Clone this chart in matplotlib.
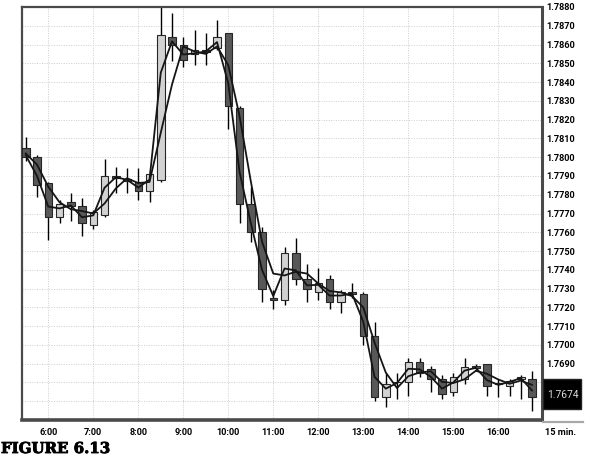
import matplotlib
matplotlib.use("Agg")
import matplotlib.pyplot as plt
import matplotlib.font_manager as fm
import matplotlib.patheffects as pe
import numpy as np
from matplotlib.patches import Rectangle
from matplotlib.lines import Line2D

# ---- data (15-minute candles) ----
times = ["5:30", "5:45", "6:00", "6:15", "6:30", "6:45", "7:00", "7:15", "7:30", "7:45",
         "8:00", "8:15", "8:30", "8:45", "9:00", "9:15", "9:30", "9:45", "10:00", "10:15",
         "10:30", "10:45", "11:00", "11:15", "11:30", "11:45", "12:00", "12:15", "12:30", "12:45",
         "13:00", "13:15", "13:30", "13:45", "14:00", "14:15", "14:30", "14:45", "15:00", "15:15",
         "15:30", "15:45", "16:00", "16:15", "16:30", "16:45"]

opens = [1.7805, 1.7800, 1.7786, 1.7768, 1.7776, 1.7774, 1.7764, 1.7769, 1.7790, 1.77885,
         1.7787, 1.7782, 1.7788, 1.7864, 1.7860, 1.7855, 1.7857, 1.7858, 1.7866, 1.7826,
         1.7775, 1.7760, 1.7725, 1.7724, 1.7749, 1.7735, 1.7728, 1.7735, 1.7723, 1.7728,
         1.7727, 1.7705, 1.7672, 1.76805, 1.7680, 1.7691, 1.7687, 1.7682, 1.7675, 1.7682,
         1.7689, 1.7690, 1.76795, 1.7678, 1.7682, 1.7682]
highs = [1.7811, 1.7801, 1.7787, 1.7777, 1.7781, 1.7778, 1.7772, 1.7799, 1.7795, 1.7794,
         1.7794, 1.7793, 1.7880, 1.7877, 1.7864, 1.7868, 1.7866, 1.7873, 1.7866, 1.7827,
         1.7784, 1.7763, 1.7729, 1.7752, 1.7757, 1.7743, 1.7741, 1.7737, 1.7729, 1.7733,
         1.7728, 1.7712, 1.7685, 1.7685, 1.7693, 1.7693, 1.7689, 1.7684, 1.7685, 1.7693,
         1.7690, 1.7690, 1.7682, 1.7682, 1.7684, 1.7686]
lows = [1.7798, 1.7779, 1.7756, 1.7765, 1.7766, 1.7758, 1.7762, 1.7768, 1.7781, 1.7781,
        1.7777, 1.7776, 1.7787, 1.7851, 1.7848, 1.7849, 1.7849, 1.7857, 1.7815, 1.7765,
        1.7755, 1.7723, 1.7719, 1.7721, 1.7732, 1.7723, 1.7724, 1.7719, 1.7717, 1.7725,
        1.7700, 1.7670, 1.7667, 1.7671, 1.7673, 1.7683, 1.7675, 1.7671, 1.7673, 1.7679,
        1.7686, 1.7673, 1.7672, 1.7673, 1.7671, 1.7665]
closes = [1.7800, 1.7785, 1.7768, 1.7775, 1.7774, 1.7765, 1.7771, 1.7790, 1.7789, 1.77875,
          1.7782, 1.7791, 1.7865, 1.7860, 1.7852, 1.7857, 1.7856, 1.7864, 1.7827, 1.7775,
          1.7760, 1.7730, 1.7724, 1.7749, 1.7735, 1.7730, 1.7733, 1.7723, 1.7728, 1.7727,
          1.7705, 1.7672, 1.7679, 1.7680, 1.7691, 1.7685, 1.7682, 1.7674, 1.7683, 1.7688,
          1.76877, 1.7678, 1.7679, 1.7681, 1.7683, 1.7672]

# moving-average lines
ma_fast = [1.7801, 1.7790, 1.77737, 1.77727, 1.77743, 1.7768, 1.7769, 1.77837, 1.77893, 1.7788,
           1.77838, 1.7788, 1.7845, 1.78617, 1.78547, 1.78553, 1.78563, 1.78613, 1.78393, 1.77923,
           1.7765, 1.7740, 1.7726, 1.77407, 1.77397, 1.77317, 1.7732, 1.77263, 1.77263, 1.77273,
           1.77123, 1.7683, 1.76767, 1.76797, 1.76873, 1.7687, 1.7683, 1.76767, 1.7680, 1.76863,
           1.76878, 1.76812, 1.76787, 1.76803, 1.76823, 1.76757]
ma_slow = [1.7802, 1.7796, 1.77843, 1.7776, 1.77723, 1.77713, 1.7770, 1.77753, 1.77833, 1.77888,
           1.77862, 1.77868, 1.7813, 1.78387, 1.7859, 1.78563, 1.7855, 1.7859, 1.7849, 1.7822,
           1.77873, 1.7755, 1.7738, 1.7737, 1.7739, 1.7738, 1.77327, 1.77287, 1.7728, 1.7726,
           1.7720, 1.77013, 1.76853, 1.7677, 1.76833, 1.76853, 1.7686, 1.76803, 1.76797, 1.76817,
           1.76862, 1.76846, 1.76816, 1.76793, 1.7681, 1.76787]

hour_labels = ["6:00", "7:00", "8:00", "9:00", "10:00", "11:00", "12:00", "13:00", "14:00", "15:00", "16:00"]
price_ticks = [1.7670, 1.7680, 1.7690, 1.7700, 1.7710, 1.7720, 1.7730, 1.7740, 1.7750, 1.7760,
               1.7770, 1.7780, 1.7790, 1.7800, 1.7810, 1.7820, 1.7830, 1.7840, 1.7850, 1.7860,
               1.7870, 1.7880]
hidden_price_labels = [1.7670, 1.7680]   # covered by the last-price box
last_price_label = "1.7674"

# ---- fonts ----
available = {f.name for f in fm.fontManager.ttflist}
axis_font = "Roboto" if "Roboto" in available else "DejaVu Sans"
axis_weight = "bold" if axis_font == "Roboto" else "normal"
axis_size = 6.6 if axis_font == "Roboto" else 6

# ---- figure ----
W, H = 596, 465
fig = plt.figure(figsize=(W / 100, H / 100), dpi=100)
fig.patch.set_facecolor("white")
ax = fig.add_axes([22 / W, 45 / H, 520 / W, 413 / H])

def to_min(s):
    h, m = s.split(":")
    return int(h) * 60 + int(m)

t = np.array([to_min(s) for s in times])
o = np.array(opens); hi = np.array(highs); lo = np.array(lows); c = np.array(closes)

ax.vlines(t, lo, hi, color="black", lw=1.0, zorder=2)
bottoms = np.minimum(o, c)
heights = np.maximum(np.abs(c - o), 0.00004)
cols = np.where(c >= o, "#d2d2d2", "#585858")
ax.bar(t, heights, bottom=bottoms, width=10, color=cols, edgecolor="#262626", linewidth=0.8, zorder=3)

ax.plot(t, ma_slow, color="#151515", lw=1.3, zorder=4)
ax.plot(t, ma_fast, color="#151515", lw=1.3, zorder=4)

ax.set_xlim(325, 1018.3)
ax.set_ylim(1.7660, 1.78797)
ax.set_xticks([to_min(s) for s in hour_labels])
ax.set_xticklabels(hour_labels)
ax.set_yticks(price_ticks)
ax.set_yticklabels(["" if v in hidden_price_labels else "%.4f" % v for v in price_ticks])
ax.yaxis.tick_right()
ax.tick_params(axis="both", length=0, labelsize=axis_size, colors="black")
ax.tick_params(axis="y", pad=3)
ax.tick_params(axis="x", pad=6)
for lab in ax.get_xticklabels() + ax.get_yticklabels():
    lab.set_family(axis_font)
    lab.set_fontweight(axis_weight)

ax.grid(True, color="#cdcdcd", linestyle=(0, (1, 1.5)), linewidth=0.7, zorder=0)
ax.set_axisbelow(True)
for side, lw in (("left", 1.6), ("top", 1.6), ("right", 2.2), ("bottom", 2.6)):
    ax.spines[side].set_color("#4a4a4a")
    ax.spines[side].set_linewidth(lw)

# grey extension of the time axis under the price scale
fig.add_artist(Line2D([543 / W, 583 / W], [(H - 421.5) / H] * 2, color="#a8a8a8", lw=1.6))
fig.text(545 / W, (H - 432) / H, "15 min.", fontsize=axis_size, family=axis_font,
         fontweight=axis_weight, va="center", ha="left")

# last price box
box = Rectangle((543 / W, (H - 409) / H), 38 / W, 30 / H, transform=fig.transFigure,
                facecolor="black", edgecolor="#222222", zorder=10)
fig.add_artist(box)
fig.text(547 / W, (H - 394.5) / H, last_price_label, color="#dcdcdc", fontsize=axis_size + 0.8,
         family=axis_font, va="center", ha="left", zorder=11)

fig.text(1 / W, (H - 449) / H, "FIGURE 6.13", fontsize=10.8, fontweight="heavy",
         family="DejaVu Serif", va="center", ha="left",
         path_effects=[pe.withStroke(linewidth=0.6, foreground="black")])

fig.savefig("out.png", dpi=100)
